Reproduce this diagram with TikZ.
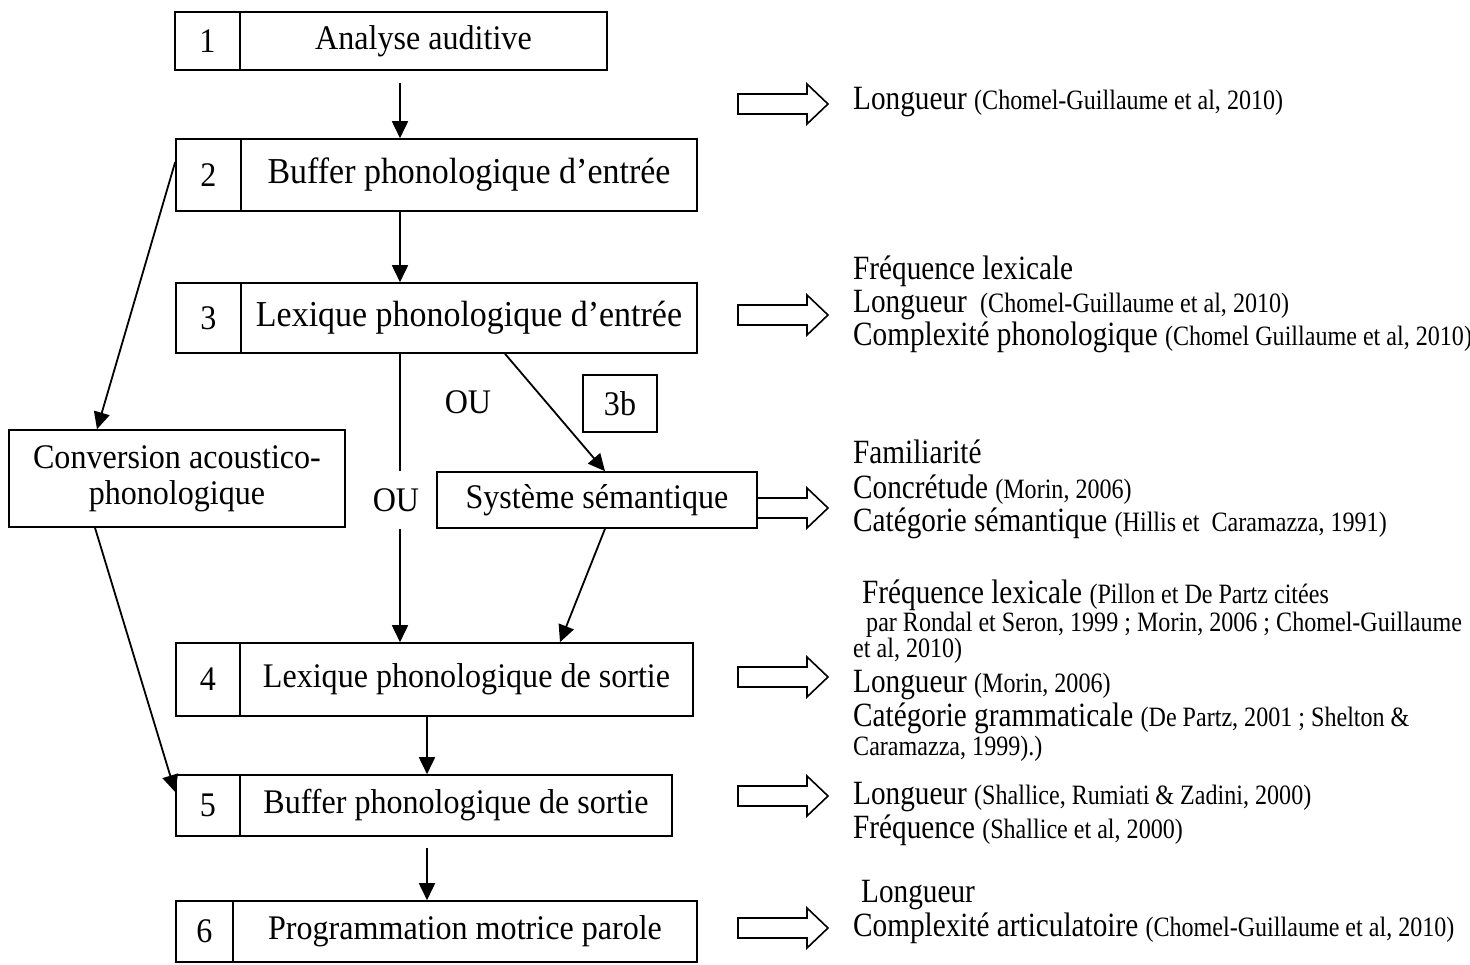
\documentclass[tikz,border=0pt]{standalone}
\usepackage{fontspec}
\setmainfont{Liberation Serif}
\newfontfamily\boxfont[FakeStretch=0.93]{Liberation Serif}
\newfontfamily\rfont[FakeStretch=0.86]{Liberation Serif}
\usetikzlibrary{arrows.meta}
\newcommand\bigtxt{\boxfont\fontsize{34.5}{36}\selectfont}
\newcommand\bigtxtb{\boxfont\fontsize{36.5}{38}\selectfont}
\newcommand\rbig{\rfont\fontsize{34}{35}\selectfont}
\newcommand\rcite{\fontsize{28}{29}\selectfont}
\newcommand\hollowarr[3]{\draw[hol] (#1,#3-10) -- (#2-21,#3-10) -- (#2-21,#3-20) -- (#2,#3) -- (#2-21,#3+20) -- (#2-21,#3+10) -- (#1,#3+10) -- cycle;}
\begin{document}
\begin{tikzpicture}[x=1pt,y=-1pt,
  cell/.style={draw, line width=1.6pt, inner sep=0pt, font=\bigtxt},
  conn/.style={line width=1.8pt, -{Triangle[length=17pt,width=16pt]}},
  hol/.style={draw, line width=1.6pt, line join=miter, fill=white},
  rt/.style={anchor=base west, inner sep=0pt, font=\rbig}]
\useasboundingbox (0,0) rectangle (1470,965);

% boxes
\node[cell, minimum width=65pt, minimum height=58pt] (n1) at (207.5,41) {1};
\node[cell, minimum width=367pt, minimum height=58pt] (b1) at (423.5,41) {Analyse auditive};

\node[cell, minimum width=65pt, minimum height=72pt] (n2) at (208.5,175) {2};
\node[cell, minimum width=456pt, minimum height=72pt, font=\bigtxtb] (b2) at (469,175) {Buffer phonologique d’entrée};

\node[cell, minimum width=65pt, minimum height=70pt] (n3) at (208.5,318) {3};
\node[cell, minimum width=456pt, minimum height=70pt, font=\bigtxtb] (b3) at (469,318) {Lexique phonologique d’entrée};

\node[cell, minimum width=336pt, minimum height=97pt, align=center] (conv) at (177,478.5) {Conversion acoustico-\\phonologique};
\node[cell, minimum width=74pt, minimum height=57pt] (n3b) at (620,403.5) {3b};
\node[cell, minimum width=320pt, minimum height=56pt] (sem) at (597,500) {Système sémantique};

\node[cell, minimum width=64pt, minimum height=73pt] (n4) at (208,679.5) {4};
\node[cell, minimum width=453pt, minimum height=73pt] (b4) at (466.5,679.5) {Lexique phonologique de sortie};

\node[cell, minimum width=64pt, minimum height=61pt] (n5) at (208,805.5) {5};
\node[cell, minimum width=432pt, minimum height=61pt] (b5) at (456,805.5) {Buffer phonologique de sortie};

\node[cell, minimum width=57pt, minimum height=61pt] (n6) at (204.5,931.5) {6};
\node[cell, minimum width=464pt, minimum height=61pt] (b6) at (465,931.5) {Programmation motrice parole};

% helper coordinates
\coordinate (s12) at (400,83);
\coordinate (s56) at (427,848);

% connectors
\draw[conn] (s12) -- (b2.north -| s12);
\draw[conn] (b2.south -| s12) -- (b3.north -| s12);
\draw[line width=1.8pt] (b3.south -| s12) -- (400,471);
\draw[conn] (400,529) -- (b4.north -| s12);
\node[font=\bigtxt, inner sep=0pt] (ou2) at (396,500) {OU};
\node[font=\bigtxt, inner sep=0pt] (ou1) at (468,402) {OU};
\draw[conn] (b3.south -| 505,0) -- (sem.north -| 605,0);
\draw[conn] (sem.south -| 605,0) -- (b4.north -| 560,0);
\draw[conn] (b4.south -| s56) -- (b5.north -| s56);
\draw[conn] (s56) -- (b6.north -| s56);
\draw[conn] (n2.west |- 0,162) -- (conv.north -| 97,0);
\draw[conn] (conv.south -| 95,0) -- (n5.west |- 0,792);

% hollow arrows
\hollowarr{738}{828}{104}
\hollowarr{738}{828}{315}
\hollowarr{757}{828}{508}
\hollowarr{738}{828}{677}
\hollowarr{738}{828}{796}
\hollowarr{738}{828}{928}

% right texts
\node[rt] (t1) at (853,110) {Longueur {\rcite(Chomel-Guillaume et al, 2010)}};

\node[rt] (t3a) at (853,280) {Fréquence lexicale};
\node[rt] (t3b) at (853,313) {Longueur {\rcite\ (Chomel-Guillaume et al, 2010)}};
\node[rt] (t3c) at (853,346) {Complexité phonologique {\rcite(Chomel Guillaume et al, 2010)}};

\node[rt] (t7a) at (853,464) {Familiarité};
\node[rt] (t7b) at (853,498) {Concrétude {\rcite(Morin, 2006)}};
\node[rt] (t7c) at (853,531) {Catégorie sémantique {\rcite(Hillis et\ \ Caramazza, 1991)}};

\node[rt] (t4a) at (862,603) {Fréquence lexicale {\rcite(Pillon et De Partz citées}};
\node[rt, font=\rfont\rcite] (t4b) at (866,631) {par Rondal et Seron, 1999 ; Morin, 2006 ; Chomel-Guillaume};
\node[rt, font=\rfont\rcite] (t4c) at (853,657) {et al, 2010)};
\node[rt] (t4d) at (853,692) {Longueur {\rcite(Morin, 2006)}};
\node[rt] (t4e) at (853,726) {Catégorie grammaticale {\rcite(De Partz, 2001 ; Shelton \&}};
\node[rt, font=\rfont\rcite] (t4f) at (853,755) {Caramazza, 1999).)};

\node[rt] (t5a) at (853,804) {Longueur {\rcite(Shallice, Rumiati \& Zadini, 2000)}};
\node[rt] (t5b) at (853,838) {Fréquence {\rcite(Shallice et al, 2000)}};

\node[rt] (t6a) at (861,902) {Longueur};
\node[rt] (t6b) at (853,936) {Complexité articulatoire {\rcite(Chomel-Guillaume et al, 2010)}};
\end{tikzpicture}
\end{document}
